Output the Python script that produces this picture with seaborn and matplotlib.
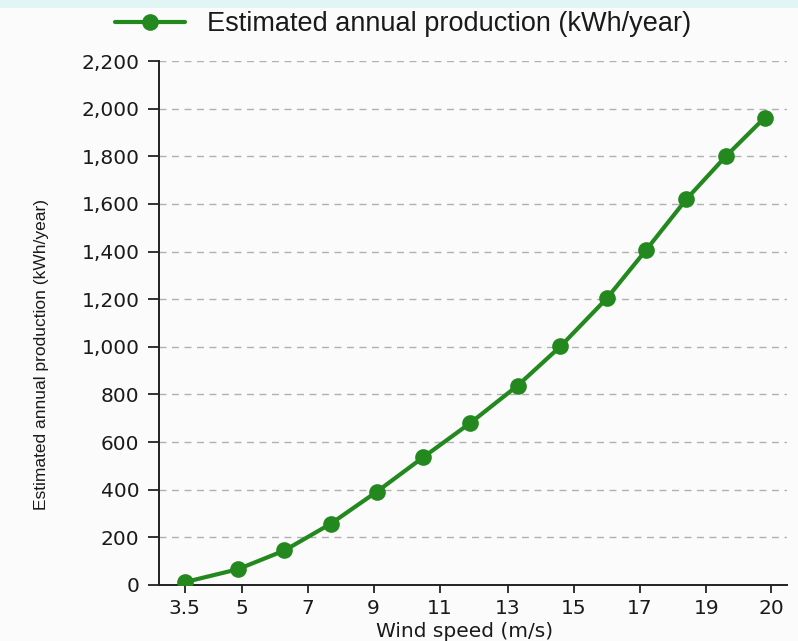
import numpy as np
import pandas as pd
import seaborn as sns
import matplotlib.pyplot as plt
from matplotlib.patches import Rectangle

# --- data ---
wind_speed = [3.5, 4.9, 6.3, 7.7, 9.1, 10.5, 11.9, 13.3, 14.6, 16.0, 17.2, 18.4, 19.3, 19.9]
production = [12, 66, 145, 257, 392, 536, 680, 837, 1002, 1203, 1408, 1620, 1800, 1962]

# tick labels on the wind-speed axis (unevenly spaced in the original)
speed_ticks = [3.5, 5, 7, 9, 11, 13, 15, 17, 19, 20]
tick_slots = [0, 0.86, 1.86, 2.86, 3.86, 4.89, 5.89, 6.89, 7.9, 8.88]
y_ticks = list(range(0, 2201, 200))

df = pd.DataFrame({"speed": wind_speed, "kwh": production})

# piecewise-linear axis so the tick labels sit where they do in the source
anchor_v = [0.0] + speed_ticks + [40.0]
anchor_p = [-2.01] + tick_slots + [8.88 + 20 * 0.98]

def fwd(v):
    return np.interp(v, anchor_v, anchor_p)

def inv(p):
    return np.interp(p, anchor_p, anchor_v)

green = "#23891f"
tick_font = ["DejaVu Sans"]

sns.set_style("white")
plt.rcParams["font.family"] = ["Liberation Sans", "DejaVu Sans"]

fig = plt.figure(figsize=(7.98, 6.41), dpi=100, facecolor="#fbfbfb")
ax = fig.add_axes([159 / 798, 56 / 641, 628 / 798, 524 / 641])
ax.set_facecolor("#fbfbfb")

# light band along the top edge
fig.patches.append(Rectangle((0, 1 - 8 / 641), 1, 8 / 641, transform=fig.transFigure,
                             facecolor="#e1f5f5", edgecolor="none"))

ax.set_xscale("function", functions=(fwd, inv))

sns.lineplot(data=df, x="speed", y="kwh", ax=ax, color=green, linewidth=3,
             marker="o", markersize=12, markeredgewidth=0,
             label="Estimated annual production (kWh/year)", zorder=3)

ax.set_xlim(inv(-0.39), inv(9.12))
ax.set_ylim(0, 2200)
ax.set_xticks(speed_ticks)
ax.set_xticklabels([f"{t:g}" for t in speed_ticks])
ax.set_yticks(y_ticks)
ax.set_yticklabels([f"{t:,}" for t in y_ticks])
ax.xaxis.set_minor_locator(plt.NullLocator())

ax.grid(axis="y", linestyle=(0, (5, 4)), color="#b0b0b0", linewidth=1)
ax.grid(axis="x", visible=False)
sns.despine(ax=ax)
for s in ["left", "bottom"]:
    ax.spines[s].set_color("#222222")
    ax.spines[s].set_linewidth(1.4)

ax.tick_params(axis="y", direction="out", length=8, width=1.3, color="#222222",
               labelsize=14.5, pad=6, left=True, labelcolor="#1a1a1a")
ax.tick_params(axis="x", direction="out", length=6, width=1.3, color="#222222",
               labelsize=14.5, pad=4, bottom=True, labelcolor="#1a1a1a")
for lab in ax.get_xticklabels() + ax.get_yticklabels():
    lab.set_family(tick_font)

ax.set_xlabel("Wind speed (m/s)", fontsize=14.5, family=tick_font, color="#1a1a1a")
ax.xaxis.set_label_coords(0.487, -0.07)
ax.set_ylabel("Estimated annual production (kWh/year)", fontsize=12.5,
              family=["Liberation Sans Narrow", "Liberation Sans"], color="#1a1a1a")
ax.yaxis.set_label_coords(-0.175, 0.44)

ax.legend_.remove()
h, l = ax.get_legend_handles_labels()
fig.legend(h, l, loc="center", bbox_to_anchor=(403 / 798, 1 - 24 / 641),
           frameon=False, fontsize=19.5, handlelength=2.6, handletextpad=0.8,
           labelcolor="#1a1a1a")

fig.savefig("out.png", dpi=100, facecolor=fig.get_facecolor())
